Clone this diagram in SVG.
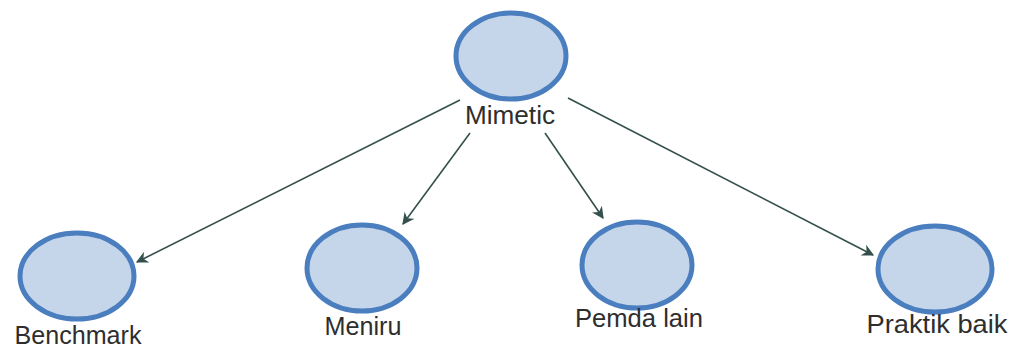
<svg xmlns="http://www.w3.org/2000/svg" width="1015" height="347" viewBox="0 0 1015 347">
  <style>
    .node ellipse { fill: #c5d5ea; stroke: #4a7ebf; stroke-width: 5; }
    .node text { font-family: "Liberation Sans", Arial, sans-serif; font-size: 25px; fill: #2e2e2e; text-anchor: middle; }
    .edge { stroke: #34504c; stroke-width: 1.6; fill: none; marker-end: url(#arrow); }
  </style>
  <defs>
    <marker id="arrow" viewBox="0 0 10 10" refX="9" refY="5" markerWidth="12" markerHeight="12" markerUnits="userSpaceOnUse" orient="auto">
      <path d="M0,0 L10,5 L0,10 L3,5 Z" fill="#34504c"/>
    </marker>
  </defs>
  <rect width="1015" height="347" fill="#ffffff"/>

  <g id="connectors">
    <line class="edge" x1="460" y1="100" x2="137" y2="262"/>
    <line class="edge" x1="470" y1="133" x2="403" y2="224"/>
    <line class="edge" x1="545" y1="133" x2="603" y2="218"/>
    <line class="edge" x1="568" y1="98" x2="873" y2="255"/>
  </g>

  <g id="mimetic" class="node">
    <ellipse cx="511" cy="56" rx="55" ry="43"/>
    <text x="510" y="124" textLength="90" lengthAdjust="spacingAndGlyphs">Mimetic</text>
  </g>
  <g id="benchmark" class="node">
    <ellipse cx="77" cy="276" rx="57" ry="43"/>
    <text x="78" y="344" textLength="127" lengthAdjust="spacingAndGlyphs">Benchmark</text>
  </g>
  <g id="meniru" class="node">
    <ellipse cx="362" cy="268" rx="55" ry="43"/>
    <text x="363" y="335" textLength="77" lengthAdjust="spacingAndGlyphs">Meniru</text>
  </g>
  <g id="pemda-lain" class="node">
    <ellipse cx="637" cy="265" rx="55" ry="43"/>
    <text x="639" y="327" textLength="128" lengthAdjust="spacingAndGlyphs">Pemda lain</text>
  </g>
  <g id="praktik-baik" class="node">
    <ellipse cx="935" cy="269" rx="57" ry="43"/>
    <text x="937" y="333" textLength="141" lengthAdjust="spacingAndGlyphs">Praktik baik</text>
  </g>
</svg>
